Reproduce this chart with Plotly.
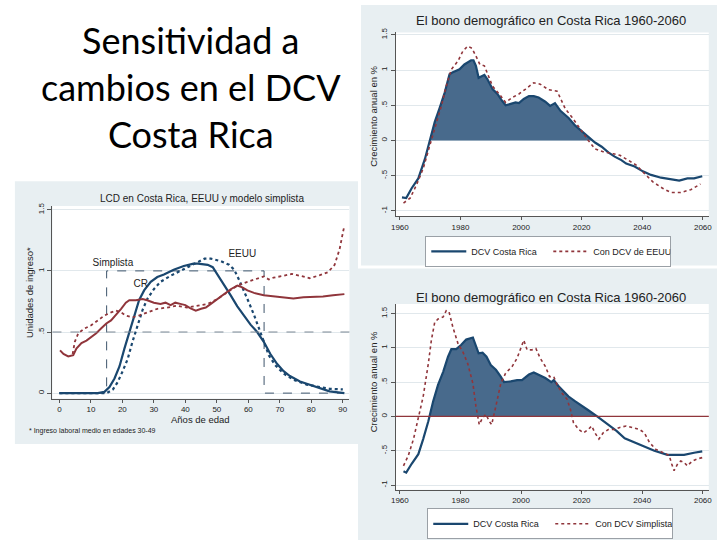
import plotly.graph_objects as go

# ---------------- data ----------------
# Chart A (top right): DCV Costa Rica vs Con DCV de EEUU
a_cr_years = [1960.7, 1962.1, 1963.9, 1966.1, 1968.3, 1969.9, 1971.5, 1973.2, 1974.8, 1976.4,
              1977.5, 1979.7, 1981.3, 1983.5, 1984.3, 1985.1, 1986.0, 1987.9, 1988.9, 1990.6,
              1992.2, 1993.8, 1994.9, 1996.6, 1998.2, 1999.3, 2000.9, 2002.6, 2004.2, 2005.8,
              2008.0, 2009.6, 2011.2, 2013.0, 2015.7, 2017.9, 2020.0, 2022.2, 2024.4, 2026.6,
              2028.8, 2030.9, 2033.1, 2034.7, 2037.5, 2040.2, 2042.9, 2046.2, 2049.4, 2052.2,
              2054.9, 2057.1, 2059.8]
a_cr_vals = [-0.81, -0.82, -0.68, -0.54, -0.26, 0.02, 0.26, 0.47, 0.68, 0.94,
             0.97, 1.01, 1.08, 1.14, 1.14, 1.06, 0.89, 0.93, 0.87, 0.73,
             0.66, 0.56, 0.50, 0.52, 0.54, 0.53, 0.59, 0.63, 0.63, 0.61,
             0.55, 0.49, 0.53, 0.42, 0.32, 0.21, 0.13, 0.04, -0.03, -0.09,
             -0.17, -0.23, -0.28, -0.33, -0.37, -0.44, -0.49, -0.53, -0.55, -0.57,
             -0.54, -0.54, -0.51]
a_us_years = [1961.2, 1963.4, 1965.5, 1967.7, 1969.9, 1971.5, 1973.7, 1975.3, 1977.0, 1979.2,
              1980.8, 1982.4, 1983.8, 1985.1, 1986.4, 1987.9, 1988.9, 1990.6, 1992.8, 1994.9,
              1997.1, 1999.3, 2001.5, 2004.2, 2006.3, 2009.1, 2011.9, 2013.0, 2014.6, 2016.8,
              2019.5, 2022.2, 2024.4, 2027.1, 2030.4, 2032.6, 2035.3, 2038.0, 2040.7, 2043.5,
              2046.7, 2049.4, 2052.7, 2056.0, 2059.2]
a_us_vals = [-0.89, -0.82, -0.63, -0.40, -0.07, 0.16, 0.49, 0.77, 1.01, 1.13,
             1.27, 1.34, 1.31, 1.20, 1.08, 1.06, 0.96, 0.77, 0.66, 0.54,
             0.61, 0.66, 0.73, 0.82, 0.80, 0.72, 0.70, 0.59, 0.45, 0.33,
             0.16, 0.00, -0.12, -0.16, -0.19, -0.21, -0.28, -0.35, -0.47, -0.59,
             -0.68, -0.74, -0.74, -0.70, -0.62]

# Chart B (bottom right): DCV Costa Rica vs Con DCV Simplista
b_cr_years = [1961.2, 1962.1, 1963.9, 1966.1, 1967.7, 1969.4, 1971.0, 1972.6, 1974.3, 1975.9,
              1977.0, 1978.6, 1980.2, 1981.9, 1984.1, 1984.9, 1986.0, 1987.3, 1988.6, 1990.0,
              1991.7, 1993.3, 1994.4, 1996.6, 1998.7, 2000.3, 2002.6, 2004.2, 2005.8, 2008.0,
              2010.0, 2010.8, 2012.4, 2015.7, 2017.9, 2020.0, 2022.2, 2025.1, 2028.8, 2031.5,
              2034.2, 2037.5, 2040.7, 2044.0, 2048.3, 2053.8, 2057.1, 2059.8]
b_cr_vals = [-0.80, -0.82, -0.69, -0.55, -0.33, -0.07, 0.22, 0.46, 0.65, 0.87,
             0.98, 0.98, 1.04, 1.12, 1.15, 1.06, 0.92, 0.93, 0.87, 0.75,
             0.68, 0.58, 0.50, 0.51, 0.53, 0.53, 0.61, 0.64, 0.61, 0.56,
             0.50, 0.53, 0.44, 0.29, 0.22, 0.15, 0.09, 0.00, -0.12, -0.21,
             -0.32, -0.38, -0.45, -0.50, -0.56, -0.56, -0.53, -0.51]
b_simp_years = [1961.2, 1962.8, 1964.5, 1966.1, 1967.7, 1969.4, 1970.4, 1971.5, 1972.6, 1974.3,
                1975.3, 1976.2, 1977.5, 1979.2, 1980.8, 1982.4, 1984.1, 1985.1, 1986.2, 1987.3,
                1988.4, 1989.5, 1990.3, 1991.7, 1993.3, 1994.9, 1997.1, 1998.7, 1999.8, 2000.9,
                2002.0, 2003.6, 2004.9, 2006.3, 2008.0, 2009.4, 2010.8, 2011.9, 2013.5, 2015.2,
                2016.3, 2017.3, 2019.0, 2020.6, 2022.2, 2023.3, 2024.4, 2025.7, 2027.1, 2028.8,
                2030.9, 2032.6, 2034.7, 2036.9, 2039.1, 2040.7, 2042.4, 2044.5, 2047.3, 2048.9,
                2049.7, 2050.5, 2051.7, 2052.7, 2053.8, 2054.9, 2056.5, 2058.1, 2059.8]
b_simp_vals = [-0.72, -0.57, -0.33, -0.04, 0.29, 0.77, 1.11, 1.37, 1.42, 1.45,
               1.54, 1.53, 1.30, 1.06, 0.94, 0.77, 0.48, 0.15, -0.12, -0.02,
               0.03, -0.07, -0.12, 0.15, 0.48, 0.63, 0.73, 0.85, 0.97, 1.11,
               0.97, 0.97, 0.99, 0.85, 0.73, 0.58, 0.58, 0.46, 0.34, 0.25,
               0.10, -0.09, -0.19, -0.24, -0.19, -0.14, -0.24, -0.33, -0.24, -0.19,
               -0.19, -0.16, -0.14, -0.16, -0.19, -0.24, -0.38, -0.48, -0.53, -0.57,
               -0.69, -0.79, -0.69, -0.65, -0.67, -0.72, -0.65, -0.62, -0.60]

# Chart C (left): LCD en Costa Rica, EEUU y modelo simplista
c_cr_lab_age = [0, 12.2, 14.3, 15.9, 17.5, 19.1, 20.6, 22.2, 23.8, 25.3, 26.9, 29.0, 31.1, 33.2,
                36.3, 39.5, 42.6, 44.0, 47.1, 48.7, 50.2, 52.3, 54.4, 56.5, 58.6, 60.7, 62.8,
                64.9, 67.0, 69.1, 71.2, 73.2, 76.4, 79.5, 82.7, 85.8, 90.5]
c_cr_lab = [0, 0, 0.01, 0.05, 0.12, 0.22, 0.36, 0.50, 0.65, 0.76, 0.84, 0.91, 0.95, 0.97,
            1.01, 1.04, 1.06, 1.06, 1.05, 1.03, 0.97, 0.89, 0.80, 0.71, 0.63, 0.56, 0.50,
            0.42, 0.32, 0.24, 0.18, 0.14, 0.095, 0.07, 0.04, 0.014, 0.0]
c_us_lab_age = [0, 15.0, 17.0, 18.5, 20.1, 21.7, 23.2, 24.8, 26.4, 27.9, 30.0, 32.1, 35.3, 38.4,
                41.5, 44.7, 46.1, 48.1, 51.3, 53.9, 55.5, 57.0, 58.6, 60.2, 61.8, 63.3, 64.9,
                66.5, 68.5, 71.2, 74.3, 78.5, 82.7, 85.8, 90.0]
c_us_lab = [0, 0, 0.03, 0.09, 0.18, 0.28, 0.42, 0.55, 0.68, 0.77, 0.85, 0.91, 0.96, 1.00,
            1.04, 1.08, 1.10, 1.10, 1.08, 1.05, 1.01, 0.93, 0.84, 0.74, 0.64, 0.53, 0.42,
            0.31, 0.23, 0.16, 0.11, 0.07, 0.05, 0.035, 0.03]
c_cr_cons_age = [0.2, 1.3, 2.8, 4.4, 5.4, 7.0, 8.6, 10.1, 11.7, 13.3, 14.9, 16.4, 18.0, 19.6,
                 21.1, 22.2, 24.3, 26.4, 27.9, 30.0, 32.1, 33.7, 35.3, 36.8, 38.4, 40.0, 41.5,
                 43.3, 45.0, 46.5, 48.1, 50.2, 52.3, 54.4, 56.5, 58.1, 59.7, 61.8, 64.9, 68.0,
                 71.2, 74.3, 77.5, 80.6, 83.7, 86.9, 90.5]
c_cr_cons = [0.35, 0.32, 0.30, 0.31, 0.365, 0.41, 0.43, 0.46, 0.49, 0.53, 0.57, 0.595, 0.64, 0.69,
             0.74, 0.76, 0.76, 0.77, 0.76, 0.74, 0.73, 0.74, 0.72, 0.74, 0.73, 0.72, 0.695,
             0.675, 0.69, 0.70, 0.73, 0.77, 0.81, 0.85, 0.88, 0.865, 0.84, 0.82, 0.80, 0.79,
             0.785, 0.775, 0.785, 0.785, 0.79, 0.80, 0.81]
c_us_cons_age = [4.2, 4.9, 6.0, 8.1, 10.1, 12.2, 14.3, 16.4, 18.0, 19.6, 21.1, 23.2, 25.3, 27.9,
                 31.1, 34.2, 37.4, 40.5, 43.6, 47.1, 50.2, 53.4, 56.5, 59.7, 62.8, 64.9, 66.5,
                 68.0, 71.2, 73.8, 76.4, 79.5, 82.7, 85.3, 87.4, 89.0, 90.0, 90.5]
c_us_cons = [0.32, 0.42, 0.49, 0.53, 0.555, 0.595, 0.635, 0.66, 0.675, 0.66, 0.635, 0.62, 0.635,
             0.66, 0.69, 0.70, 0.715, 0.70, 0.715, 0.73, 0.77, 0.825, 0.88, 0.91, 0.94, 0.955,
             0.93, 0.945, 0.96, 0.975, 0.96, 0.94, 0.965, 0.99, 1.05, 1.18, 1.31, 1.37]
c_simp_lab_age = [0, 15, 15, 65, 65, 90]
c_simp_lab = [0, 0, 1, 1, 0, 0]
c_simp_cons = 0.5

c_labels = ["Simplista", "CR", "EEUU"]
c_label_age = [17.0, 25.8, 58.1]
c_label_val = [1.06, 0.89, 1.135]

year_ticks = [1960, 1980, 2000, 2020, 2040, 2060]
growth_ticks = [-1, -0.5, 0, 0.5, 1, 1.5]
growth_ticktext = ["-1", "-.5", "0", ".5", "1", "1.5"]
age_ticks = [0, 10, 20, 30, 40, 50, 60, 70, 80, 90]
inc_ticks = [0, 0.5, 1, 1.5]
inc_ticktext = ["0", ".5", "1", "1.5"]

# ---------------- style ----------------
W, H = 720, 540
NAVY = "#1A476F"
MAROON = "#90353B"
AREA = "#486A8C"
PANEL = "#E8EFF2"
GRID = "#E1E8EC"
AXC = "#555555"
TXT = "#222222"
FONT = "Liberation Sans, Arial, sans-serif"


def px(x):
    return x / W


def py(y):
    return 1 - y / H


def positive_part(xs, ys):
    ox, oy = [], []
    for i in range(len(xs)):
        if i > 0 and (ys[i - 1] < 0) != (ys[i] < 0):
            t = ys[i - 1] / (ys[i - 1] - ys[i])
            ox.append(xs[i - 1] + t * (xs[i] - xs[i - 1]))
            oy.append(0)
        if ys[i] >= 0:
            ox.append(xs[i])
            oy.append(ys[i])
    return ox, oy


fig = go.Figure()

# ---- Chart A ----
fx, fy = positive_part(a_cr_years, a_cr_vals)
fig.add_trace(go.Scatter(x=fx, y=fy, xaxis="x2", yaxis="y2", mode="lines", fill="tozeroy",
                         fillcolor=AREA, line=dict(width=0, color=AREA), showlegend=False,
                         hoverinfo="skip"))
fig.add_trace(go.Scatter(x=a_cr_years, y=a_cr_vals, xaxis="x2", yaxis="y2", mode="lines",
                         name="DCV Costa Rica", line=dict(color=NAVY, width=2.2), legend="legend"))
fig.add_trace(go.Scatter(x=a_us_years, y=a_us_vals, xaxis="x2", yaxis="y2", mode="lines",
                         name="Con DCV de EEUU", line=dict(color=MAROON, width=1.6, dash="dot"),
                         legend="legend"))

# ---- Chart B ----
fx, fy = positive_part(b_cr_years, b_cr_vals)
fig.add_trace(go.Scatter(x=fx, y=fy, xaxis="x3", yaxis="y3", mode="lines", fill="tozeroy",
                         fillcolor=AREA, line=dict(width=0, color=AREA), showlegend=False,
                         hoverinfo="skip"))
fig.add_trace(go.Scatter(x=b_cr_years, y=b_cr_vals, xaxis="x3", yaxis="y3", mode="lines",
                         name="DCV Costa Rica", line=dict(color=NAVY, width=2.2), legend="legend2"))
fig.add_trace(go.Scatter(x=b_simp_years, y=b_simp_vals, xaxis="x3", yaxis="y3", mode="lines",
                         name="Con DCV Simplista", line=dict(color=MAROON, width=1.6, dash="dot"),
                         legend="legend2"))

# ---- Chart C ----
fig.add_trace(go.Scatter(x=c_simp_lab_age, y=c_simp_lab, mode="lines", showlegend=False,
                         line=dict(color="#3E556C", width=1, dash="dash")))
fig.add_trace(go.Scatter(x=c_cr_lab_age, y=c_cr_lab, mode="lines", showlegend=False,
                         line=dict(color=NAVY, width=2.2)))
fig.add_trace(go.Scatter(x=c_us_lab_age, y=c_us_lab, mode="lines", showlegend=False,
                         line=dict(color=NAVY, width=2.2, dash="dot")))
fig.add_trace(go.Scatter(x=c_cr_cons_age, y=c_cr_cons, mode="lines", showlegend=False,
                         line=dict(color=MAROON, width=2)))
fig.add_trace(go.Scatter(x=c_us_cons_age, y=c_us_cons, mode="lines", showlegend=False,
                         line=dict(color=MAROON, width=1.8, dash="dot")))
fig.add_trace(go.Scatter(x=c_label_age, y=c_label_val, mode="text", text=c_labels,
                         textfont=dict(size=10, color=TXT, family=FONT), showlegend=False,
                         hoverinfo="skip"))

# ---------------- layout ----------------
shapes = [
    # panel backgrounds
    dict(type="rect", xref="paper", yref="paper", x0=px(360), x1=px(720), y0=py(263), y1=py(0),
         fillcolor=PANEL, line=dict(width=0), layer="below"),
    dict(type="rect", xref="paper", yref="paper", x0=px(357), x1=px(720), y0=py(540), y1=py(266),
         fillcolor=PANEL, line=dict(width=0), layer="below"),
    dict(type="rect", xref="paper", yref="paper", x0=px(10), x1=px(357), y0=py(443), y1=py(178),
         fillcolor=PANEL, line=dict(width=0), layer="below"),
    # plot regions
    dict(type="rect", xref="x2 domain", yref="y2 domain", x0=0, x1=1, y0=0, y1=1,
         fillcolor="white", line=dict(width=0), layer="below"),
    dict(type="rect", xref="x3 domain", yref="y3 domain", x0=0, x1=1, y0=0, y1=1,
         fillcolor="white", line=dict(width=0), layer="below"),
    dict(type="rect", xref="x domain", yref="y domain", x0=0, x1=1, y0=0, y1=1,
         fillcolor="white", line=dict(width=0), layer="below"),
    # zero line chart B
    dict(type="line", xref="x3 domain", yref="y3", x0=0, x1=1, y0=0, y1=0,
         line=dict(color=MAROON, width=1.2)),
    # simplista consumption reference line chart C
    dict(type="line", xref="x domain", yref="y", x0=0, x1=1, y0=c_simp_cons, y1=c_simp_cons,
         line=dict(color="#7C8894", width=1, dash="dash")),
]

ax_common = dict(showline=True, linecolor=AXC, linewidth=1, ticks="outside", ticklen=3,
                 tickcolor=AXC, tickfont=dict(size=8, color=TXT, family=FONT), zeroline=False,
                 showgrid=False)
ay_common = dict(showline=True, linecolor=AXC, linewidth=1, ticks="outside", ticklen=4,
                 tickcolor=AXC, tickfont=dict(size=8, color=TXT, family=FONT), zeroline=False,
                 showgrid=True, gridcolor=GRID, gridwidth=1, tickangle=-90)

layout = dict(
    width=W, height=H, autosize=False,
    margin=dict(l=0, r=0, t=0, b=0),
    paper_bgcolor="white", plot_bgcolor="rgba(0,0,0,0)",
    font=dict(family=FONT, color=TXT),
    shapes=shapes,
    xaxis=dict(ax_common, domain=[px(48), px(348.3)], range=[-2.2, 92.1], tickvals=age_ticks,
               anchor="y"),
    yaxis=dict(ay_common, domain=[py(397.3), py(203)], range=[-0.045, 1.53], tickvals=inc_ticks,
               ticktext=inc_ticktext, anchor="x"),
    xaxis2=dict(ax_common, domain=[px(395), px(711.7)], range=[1958.6, 2061.96],
                tickvals=year_ticks, anchor="y2"),
    yaxis2=dict(ay_common, domain=[py(213.3), py(27.7)], range=[-1.079, 1.535],
                tickvals=growth_ticks, ticktext=growth_ticktext, anchor="x2"),
    xaxis3=dict(ax_common, domain=[px(395), px(711.7)], range=[1958.6, 2061.96],
                tickvals=year_ticks, anchor="y3"),
    yaxis3=dict(ay_common, domain=[py(489.3), py(301.7)], range=[-1.069, 1.64],
                tickvals=growth_ticks, ticktext=growth_ticktext, anchor="x3"),
    legend=dict(x=px(425), y=py(233), xanchor="left", yanchor="top", orientation="h",
                bgcolor="white", bordercolor="#9AA0A6", borderwidth=1,
                font=dict(size=9, color=TXT, family=FONT), itemwidth=35, entrywidth=72,
                tracegroupgap=0),
    legend2=dict(x=px(427), y=py(508), xanchor="left", yanchor="top", orientation="h",
                 bgcolor="white", bordercolor="#9AA0A6", borderwidth=1,
                 font=dict(size=9, color=TXT, family=FONT), itemwidth=35, entrywidth=72,
                 tracegroupgap=0),
    annotations=[
        dict(text="Sensitividad a<br>cambios en el DCV<br>Costa Rica", x=px(188), y=py(83),
             xref="paper", yref="paper", xanchor="center", yanchor="middle", showarrow=False,
             font=dict(family="Lato, Carlito, sans-serif", size=36, color="black")),
        dict(text="El bono demográfico en Costa Rica 1960-2060", x=px(552), y=py(16),
             xref="paper", yref="paper", xanchor="center", yanchor="middle", showarrow=False,
             font=dict(size=13, color=TXT)),
        dict(text="El bono demográfico en Costa Rica 1960-2060", x=px(552), y=py(295),
             xref="paper", yref="paper", xanchor="center", yanchor="middle", showarrow=False,
             font=dict(size=13, color=TXT)),
        dict(text="LCD en Costa Rica, EEUU y modelo simplista", x=px(199), y=py(195),
             xref="paper", yref="paper", xanchor="center", yanchor="middle", showarrow=False,
             font=dict(size=10, color=TXT)),
        dict(text="Crecimiento anual en %", x=px(373), y=py(112), textangle=-90,
             xref="paper", yref="paper", xanchor="center", yanchor="middle", showarrow=False,
             font=dict(size=9.5, color=TXT)),
        dict(text="Crecimiento anual en %", x=px(373), y=py(380), textangle=-90,
             xref="paper", yref="paper", xanchor="center", yanchor="middle", showarrow=False,
             font=dict(size=9.5, color=TXT)),
        dict(text="Unidades de ingreso*", x=px(25), y=py(290), textangle=-90,
             xref="paper", yref="paper", xanchor="center", yanchor="middle", showarrow=False,
             font=dict(size=9.5, color=TXT)),
        dict(text="Años de edad", x=px(198), y=py(418),
             xref="paper", yref="paper", xanchor="center", yanchor="middle", showarrow=False,
             font=dict(size=9.5, color=TXT)),
        dict(text="* Ingreso laboral medio en edades 30-49", x=px(22), y=py(430),
             xref="paper", yref="paper", xanchor="left", yanchor="middle", showarrow=False,
             font=dict(size=7, color=TXT)),
    ],
)

fig.update_layout(**layout)
fig.write_html("out.html", config={"displayModeBar": False},
               post_script="document.body.style.margin='0';document.body.style.overflow='hidden';")
